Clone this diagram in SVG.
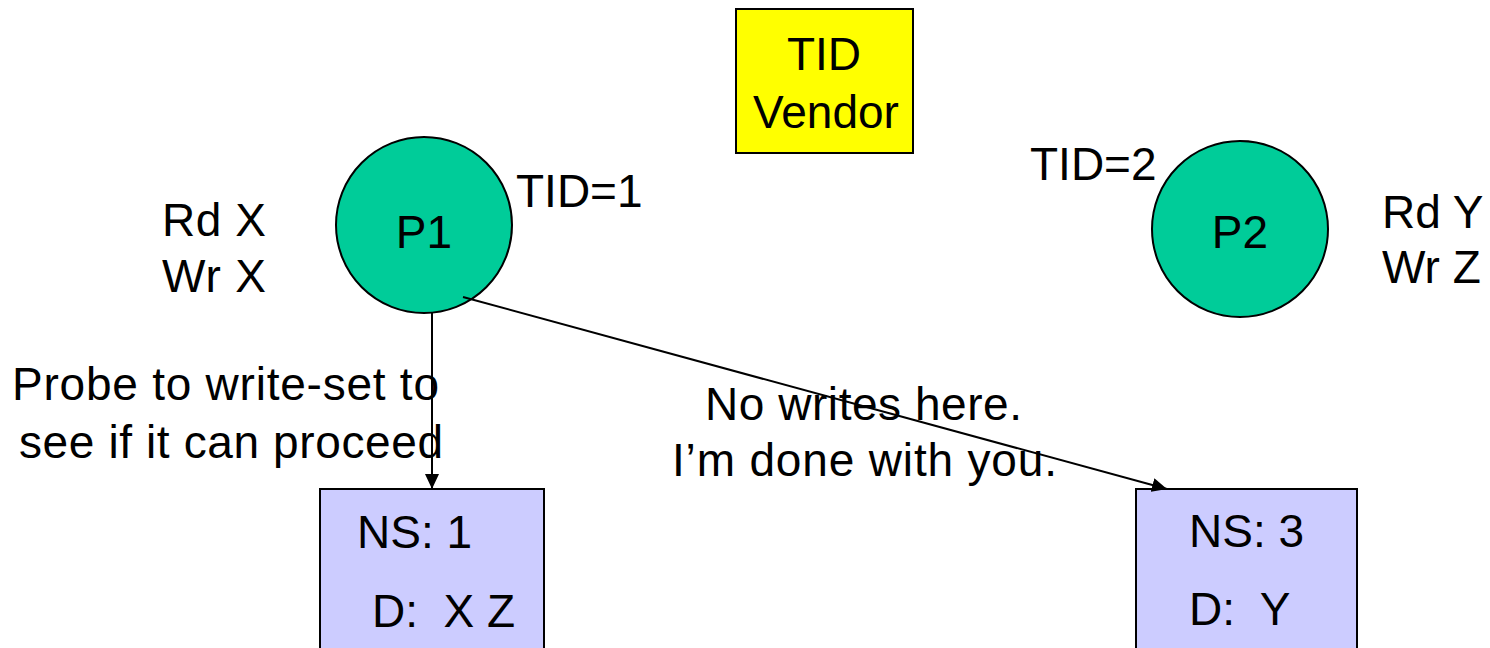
<svg xmlns="http://www.w3.org/2000/svg" width="1490" height="648" viewBox="0 0 1490 648">
  <style>
    text { font-family: "Liberation Sans", Arial, sans-serif; font-size: 46px; fill: #000; }
    .mid { text-anchor: middle; }
    .proc { fill: #00CC99; stroke: #000; stroke-width: 2; }
    .store { fill: #CCCCFF; stroke: #000; stroke-width: 2; }
    .vendor { fill: #FFFF00; stroke: #000; stroke-width: 2; }
    .conn { stroke: #000; stroke-width: 2; fill: none; marker-end: url(#arrow); }
  </style>
  <defs>
    <marker id="arrow" viewBox="0 0 10 10" refX="10" refY="5" markerWidth="15" markerHeight="14" markerUnits="userSpaceOnUse" orient="auto" preserveAspectRatio="none">
      <path d="M0,0 L10,5 L0,10 z" fill="#000"/>
    </marker>
  </defs>

  <g id="tid-vendor">
    <rect class="vendor" x="736" y="9" width="177" height="144"/>
    <text class="mid" x="824" y="70">TID</text>
    <text class="mid" x="826" y="128">Vendor</text>
  </g>

  <g id="p1">
    <circle class="proc" cx="424" cy="225" r="88"/>
    <text class="mid" x="424" y="248">P1</text>
    <text x="516" y="207">TID=1</text>
    <text x="162" y="236" textLength="104">Rd X</text>
    <text x="162" y="292" textLength="104">Wr X</text>
  </g>

  <g id="p2">
    <circle class="proc" cx="1240" cy="229" r="88"/>
    <text class="mid" x="1240" y="248">P2</text>
    <text x="1030" y="180">TID=2</text>
    <text x="1382" y="228">Rd Y</text>
    <text x="1382" y="283">Wr Z</text>
  </g>

  <g id="store-ns1">
    <rect class="store" x="320" y="489" width="224" height="170"/>
    <text x="357" y="548">NS: 1</text>
    <text x="372" y="627" xml:space="preserve">D:  X Z</text>
  </g>

  <g id="store-ns3">
    <rect class="store" x="1136" y="489" width="221" height="170"/>
    <text x="1189" y="547">NS: 3</text>
    <text x="1189" y="625" xml:space="preserve">D:  Y</text>
  </g>

  <g id="connectors">
    <line class="conn" x1="432" y1="313" x2="432" y2="489"/>
    <line class="conn" x1="463" y1="297" x2="1167" y2="489"/>
  </g>

  <g id="labels">
    <text x="12" y="400" textLength="427">Probe to write-set to</text>
    <text x="19" y="458" textLength="424">see if it can proceed</text>
    <text x="705" y="420" textLength="317">No writes here.</text>
    <text x="672" y="476" textLength="385">I’m done with you.</text>
  </g>
</svg>
